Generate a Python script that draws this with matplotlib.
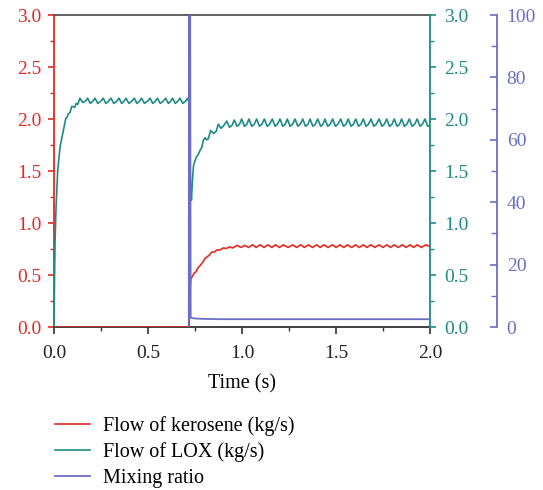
import matplotlib
matplotlib.use("Agg")
import matplotlib.pyplot as plt
from matplotlib.ticker import MultipleLocator

plt.rcParams["font.family"] = ["Liberation Serif", "DejaVu Serif"]
plt.rcParams["font.size"] = 14.5

RED = "#e42a22"
TEAL = "#1e8a86"
PURPLE = "#6a6ec6"

# LOX flow (kg/s)
lox_t = [0.000, 0.003, 0.006, 0.011, 0.020, 0.032, 0.050, 0.062, 0.070, 0.076,
         0.085, 0.094, 0.103, 0.110, 0.118, 0.126, 0.132,
         0.138, 0.152, 0.166, 0.179, 0.193, 0.206, 0.218, 0.233, 0.248,
         0.262, 0.276, 0.290, 0.303, 0.318, 0.333, 0.346, 0.360, 0.372,
         0.383, 0.398, 0.413, 0.427, 0.441, 0.454, 0.466, 0.481, 0.497,
         0.511, 0.525, 0.538, 0.550, 0.565, 0.580, 0.594, 0.608, 0.620,
         0.631, 0.645, 0.658, 0.670, 0.685, 0.699, 0.711, 0.716, 0.719,
         0.722, 0.726, 0.731, 0.736, 0.742, 0.750, 0.759, 0.768, 0.777,
         0.785, 0.794, 0.803, 0.812, 0.821, 0.833, 0.848, 0.862, 0.874,
         0.888, 0.900,
         0.919, 0.934, 0.947, 0.959, 0.974, 0.987, 0.998, 1.013, 1.026,
         1.037, 1.052, 1.065, 1.078, 1.093, 1.106, 1.119, 1.134, 1.147,
         1.161, 1.176, 1.189, 1.202, 1.217, 1.230, 1.241, 1.256, 1.269,
         1.282, 1.297, 1.310, 1.323, 1.338, 1.351, 1.362, 1.377, 1.390,
         1.403, 1.418, 1.431, 1.441, 1.456, 1.469, 1.482, 1.497, 1.510,
         1.525, 1.540, 1.553, 1.565, 1.580, 1.593, 1.605, 1.620, 1.633,
         1.645, 1.660, 1.673, 1.686, 1.701, 1.714, 1.729, 1.744, 1.757,
         1.770, 1.785, 1.798, 1.810, 1.825, 1.838, 1.849, 1.864, 1.877,
         1.890, 1.905, 1.918, 1.932, 1.947, 1.960, 1.973, 1.988, 2.000]
lox_v = [0.00, 0.50, 0.85, 1.16, 1.51, 1.73, 1.89, 2.00, 2.02, 2.05,
         2.06, 2.12, 2.12, 2.11, 2.15, 2.14, 2.17,
         2.20, 2.16, 2.17, 2.20, 2.15, 2.17, 2.20, 2.15, 2.17,
         2.20, 2.15, 2.17, 2.20, 2.15, 2.17, 2.20, 2.15, 2.17,
         2.20, 2.15, 2.17, 2.20, 2.15, 2.17, 2.20, 2.15, 2.17,
         2.20, 2.15, 2.17, 2.20, 2.15, 2.17, 2.20, 2.15, 2.17,
         2.20, 2.15, 2.17, 2.20, 2.15, 2.17, 2.20, 2.17, 2.19,
         1.70, 1.35, 1.22, 1.40, 1.55, 1.60, 1.64, 1.66, 1.70,
         1.72, 1.79, 1.82, 1.80, 1.81, 1.89, 1.86, 1.88, 1.95,
         1.91, 1.93,
         1.98, 1.92, 1.94, 1.99, 1.93, 1.95, 2.00, 1.93, 1.95,
         2.00, 1.93, 1.95, 2.00, 1.93, 1.95, 2.00, 1.93, 1.95,
         2.00, 1.93, 1.95, 2.00, 1.93, 1.95, 2.00, 1.93, 1.95,
         2.00, 1.93, 1.95, 2.00, 1.93, 1.95, 2.00, 1.93, 1.95,
         2.00, 1.93, 1.95, 2.00, 1.93, 1.95, 2.00, 1.93, 1.95,
         2.00, 1.93, 1.95, 2.00, 1.93, 1.95, 2.00, 1.93, 1.95,
         2.00, 1.93, 1.95, 2.00, 1.93, 1.95, 2.00, 1.93, 1.95,
         2.00, 1.93, 1.95, 2.00, 1.93, 1.95, 2.00, 1.93, 1.95,
         2.00, 1.93, 1.95, 2.00, 1.93, 1.95, 2.00, 1.93, 1.94]

# kerosene flow (kg/s)
ker_t = [0.000, 0.719, 0.722, 0.727, 0.737, 0.746, 0.755, 0.766, 0.777, 0.786,
         0.794, 0.803, 0.812, 0.825, 0.839, 0.852, 0.865, 0.880, 0.901, 0.915,
         0.935, 0.950, 0.974, 0.994, 1.015, 1.035, 1.056, 1.076, 1.097, 1.117,
         1.138, 1.158, 1.179, 1.199, 1.220, 1.245, 1.270, 1.291, 1.312, 1.332,
         1.353, 1.375, 1.397, 1.416, 1.436, 1.458, 1.481, 1.501, 1.521, 1.541,
         1.562, 1.583, 1.604, 1.624, 1.645, 1.665, 1.685, 1.707, 1.729, 1.750,
         1.770, 1.790, 1.810, 1.831, 1.853, 1.873, 1.894, 1.913, 1.932, 1.955,
         1.977, 2.000]
ker_v = [0.00, 0.00, 0.30, 0.46, 0.49, 0.52, 0.53, 0.57, 0.59, 0.61,
         0.63, 0.66, 0.67, 0.69, 0.72, 0.72, 0.74, 0.74, 0.76, 0.755,
         0.77, 0.76, 0.785, 0.765, 0.785, 0.765, 0.79, 0.765, 0.79, 0.765,
         0.79, 0.765, 0.79, 0.765, 0.79, 0.765, 0.79, 0.765, 0.79, 0.765,
         0.79, 0.765, 0.79, 0.765, 0.79, 0.765, 0.79, 0.765, 0.79, 0.765,
         0.79, 0.765, 0.79, 0.765, 0.79, 0.765, 0.79, 0.765, 0.79, 0.765,
         0.79, 0.765, 0.79, 0.765, 0.79, 0.765, 0.79, 0.765, 0.79, 0.765,
         0.79, 0.775]

# mixing ratio (LOX / kerosene)
mix_t = [0.717, 0.718, 0.723, 0.727, 0.740, 0.760, 0.800, 0.850, 0.900, 1.000,
         1.200, 1.400, 1.600, 1.800, 2.000]
mix_v = [0.0, 150.0, 150.0, 3.0, 2.8, 2.7, 2.6, 2.55, 2.5, 2.5,
         2.5, 2.5, 2.5, 2.5, 2.5]

fig = plt.figure(figsize=(5.43, 4.90), dpi=100)
ax = fig.add_axes([54 / 543, 1 - 327 / 490, 376 / 543, 312 / 490])
ax2 = ax.twinx()
ax3 = ax.twinx()

l1, = ax.plot(ker_t, ker_v, color=RED, lw=1.2, label="Flow of kerosene (kg/s)", zorder=3)
l2, = ax2.plot(lox_t, lox_v, color=TEAL, lw=1.2, label="Flow of LOX (kg/s)")
l3, = ax3.plot(mix_t, mix_v, color=PURPLE, lw=1.3, label="Mixing ratio")

ax.set_xlim(0, 2.0)
ax.set_ylim(0, 3.0)
ax2.set_ylim(0, 3.0)
ax3.set_ylim(0, 100)

for a in (ax, ax2):
    a.yaxis.set_major_locator(MultipleLocator(0.5))
    a.yaxis.set_minor_locator(MultipleLocator(0.25))
ax.xaxis.set_major_locator(MultipleLocator(0.5))
ax.xaxis.set_minor_locator(MultipleLocator(0.25))
ax3.yaxis.set_major_locator(MultipleLocator(20))
ax3.yaxis.set_minor_locator(MultipleLocator(10))

ax.set_xlabel("Time (s)", labelpad=9)

# spines
ax.spines["left"].set_color(RED)
ax.spines["bottom"].set_color("#333333")
ax.spines["top"].set_color("#555555")
ax.spines["right"].set_visible(False)
ax2.spines["right"].set_color(TEAL)
ax2.spines["left"].set_visible(False)
ax2.spines["top"].set_visible(False)
ax2.spines["bottom"].set_visible(False)
ax3.spines["right"].set_position(("axes", 1.178))
ax3.spines["right"].set_color(PURPLE)
for s in ("left", "top", "bottom"):
    ax3.spines[s].set_visible(False)
for a in (ax, ax2, ax3):
    for s in a.spines.values():
        s.set_linewidth(1.3)

ax.tick_params(axis="y", which="both", colors=RED, direction="out", pad=5, labelsize=14)
ax.tick_params(axis="y", which="major", length=4, width=1.2)
ax.tick_params(axis="y", which="minor", length=3, width=1.0)
ax.tick_params(axis="x", which="both", colors="#333333", direction="out", pad=8, labelsize=14)
ax.tick_params(axis="x", which="major", length=5, width=1.2, labelcolor="#222222")
ax.tick_params(axis="x", which="minor", length=3, width=1.0)
ax2.tick_params(axis="y", which="both", colors=TEAL, direction="out", pad=6, labelsize=14)
ax2.tick_params(axis="y", which="major", length=4, width=1.2)
ax2.tick_params(axis="y", which="minor", length=3, width=1.0)
ax3.tick_params(axis="y", which="both", colors=PURPLE, direction="in", pad=7, labelsize=14)
ax3.tick_params(axis="y", which="major", length=5, width=1.2)
ax3.tick_params(axis="y", which="minor", length=4, width=1.0)

fig.legend(handles=[l1, l2, l3], loc="upper left",
           bbox_to_anchor=(55 / 543, 1 - 416 / 490), frameon=False,
           borderpad=0, borderaxespad=0, handlelength=1.75,
           handletextpad=0.65, labelspacing=0.33)

fig.savefig("out.png", dpi=100)
